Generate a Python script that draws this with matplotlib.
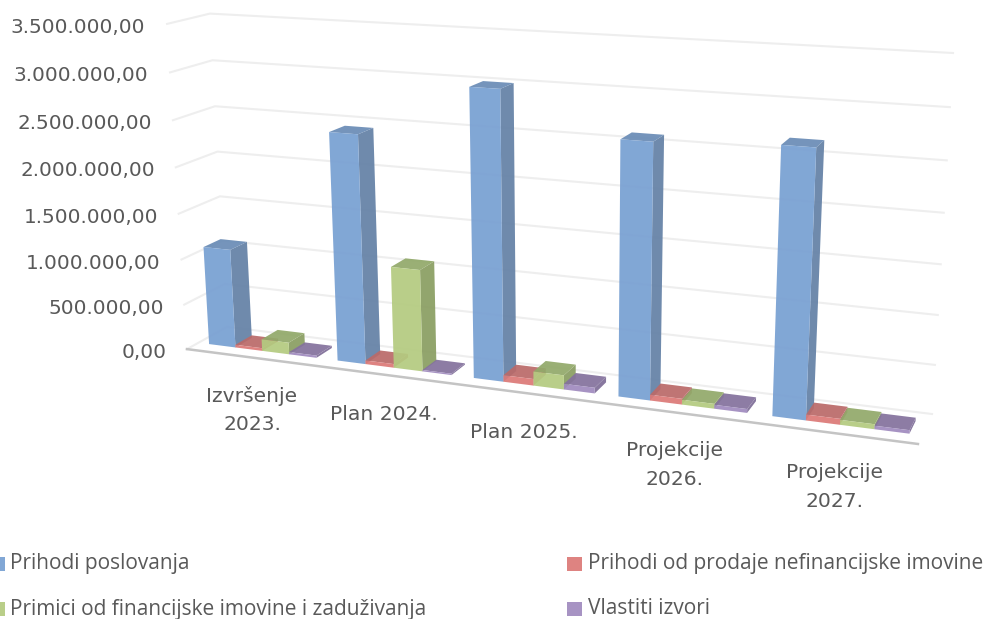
import numpy as np
import matplotlib
matplotlib.use("Agg")
import matplotlib.pyplot as plt

categories = ["Izvršenje\n2023.", "Plan 2024.", "Plan 2025.", "Projekcije\n2026.", "Projekcije\n2027."]
series = ["Prihodi poslovanja", "Prihodi od prodaje nefinancijske imovine",
          "Primici od financijske imovine i zaduživanja", "Vlastiti izvori"]
prihodi = [1090000, 2450000, 3010000, 2600000, 2660000]
prodaja = [30000, 40000, 70000, 60000, 60000]
primici = [130000, 1090000, 150000, 50000, 50000]
vlastiti = [25000, 15000, 60000, 40000, 35000]
ticks = [0, 500000, 1000000, 1500000, 2000000, 2500000, 3000000, 3500000]
tick_labels = ["0,00", "500.000,00", "1.000.000,00", "1.500.000,00", "2.000.000,00",
               "2.500.000,00", "3.000.000,00", "3.500.000,00"]

# face colours: front, side, top
colors = [("#78a0d2", "#6481a6", "#6a8cb6"),
          ("#dc7a78", "#b06160", "#ba6a69"),
          ("#b4cb80", "#8a9e62", "#92a96a"),
          ("#a08bbf", "#7f6e98", "#84729d")]

# corners of the 3d box: (category, depth, value) -> picture pixel
box = [((0, 0, 0), (187, 349)), ((5, 0, 0), (918, 444)),
       ((0, 1, 0), (227, 327)), ((5, 1, 0), (932, 414)),
       ((0, 1, 3.5e6), (210, 13.5)), ((5, 1, 3.5e6), (953, 53)),
       ((0, 0, 3.5e6), (167, 24))]


def fit_camera(points):
    rows = []
    for (x, d, v), (px, py) in points:
        p = [x, d, v / 1e6, 1]
        px, py = px / 1000, py / 1000
        rows.append(p + [0, 0, 0, 0] + [-px * c for c in p])
        rows.append([0, 0, 0, 0] + p + [-py * c for c in p])
    return np.linalg.svd(np.array(rows))[2][-1].reshape(3, 4)


cam = fit_camera(box)


def project(x, d, v):
    u = cam @ np.array([x, d, v / 1e6, 1])
    return u[0] / u[2] * 1000, u[1] / u[2] * 1000


def face(ax, pts, color, z):
    xy = np.array([project(*p) for p in pts])
    ax.fill(xy[:, 0], xy[:, 1], color=color, alpha=0.93, lw=0, zorder=z)


fig = plt.figure(figsize=(9.88, 6.19), dpi=100)
ax = fig.add_axes([0, 0, 1, 1])
ax.set_xlim(0, 988)
ax.set_ylim(619, 0)
ax.axis("off")

GRID = "#eeeeee"
TEXT = "#595959"
plt.rcParams["font.family"] = ["Open Sans", "DejaVu Sans"]

for t, lab in zip(ticks, tick_labels):
    a, b, c = project(0, 0, t), project(0, 1, t), project(5, 1, t)
    ax.plot([a[0], b[0], c[0]], [a[1], b[1], c[1]], color=GRID, lw=1.5, zorder=1)
    ax.text(a[0] - 22 + (1 - t / 3.5e6) * 2, a[1] + 3.5, lab, ha="right", va="center",
            color=TEXT, fontsize=14.4, family="DejaVu Sans")

a, b = project(0, 0, 0), project(5, 0, 0)
ax.plot([a[0], b[0]], [a[1], b[1]], color="#c4c4c4", lw=1.8, zorder=2)

BAR_W = 0.21
X0 = 0.085
D0, D1 = 0.28, 0.70
z = 3
for i in range(len(categories)):
    for s, vals in enumerate([prihodi, prodaja, primici, vlastiti]):
        x0 = i + X0 + s * BAR_W
        x1 = x0 + BAR_W
        v = vals[i]
        front, side, top = colors[s]
        face(ax, [(x1, D0, 0), (x1, D1, 0), (x1, D1, v), (x1, D0, v)], side, z)
        face(ax, [(x0, D0, v), (x1, D0, v), (x1, D1, v), (x0, D1, v)], top, z + 1)
        face(ax, [(x0, D0, 0), (x1, D0, 0), (x1, D0, v), (x0, D0, v)], front, z + 2)
        z += 3

cat_pos = [(252, 410), (384, 414), (524, 432), (674, 465), (834, 487)]
for lab, (x, y) in zip(categories, cat_pos):
    ax.text(x, y, lab, ha="center", va="center", color=TEXT, fontsize=14.6,
            linespacing=1.62, family="DejaVu Sans")

legend_pos = [(0, 564), (567, 564), (0, 609), (567, 609)]
for name, (x, y), col in zip(series, legend_pos, colors):
    w = 4.5 if x == 0 else 15
    ax.fill([x, x + w, x + w, x], [y - 7, y - 7, y + 7, y + 7], color=col[0], alpha=0.93, lw=0)
    ax.text(x + (10 if x == 0 else 21), y, name, ha="left", va="center", color=TEXT, fontsize=15)

fig.savefig("out.png", dpi=100)
